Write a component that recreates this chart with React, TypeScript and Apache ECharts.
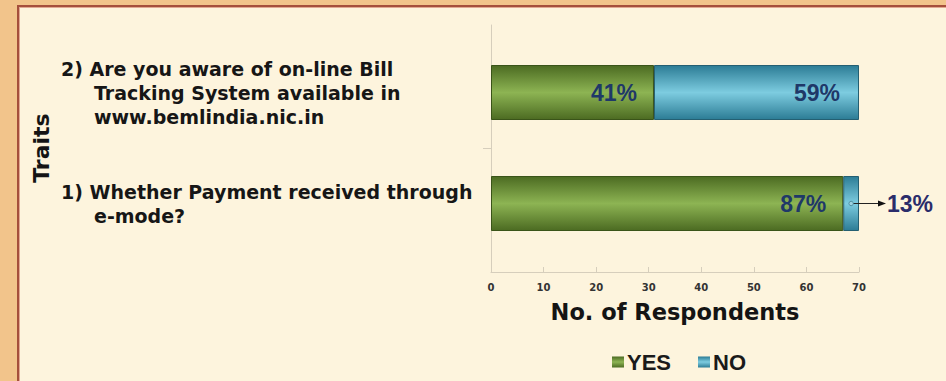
import React, { useEffect, useRef } from 'react';
import * as echarts from 'echarts';

const categories = [
  '1) Whether Payment received through\ne-mode?',
  '2) Are you aware of on-line Bill\nTracking System available in\nwww.bemlindia.nic.in',
];
const yesValues = [67, 31];
const noValues = [3, 39];
const yesLabels = ['87%', '41%'];
const noLabels = ['13%', '59%'];
const seriesNames = ['YES', 'NO'];
const xAxisName = 'No. of Respondents';
const yAxisName = 'Traits';

const VERDANA = '"DejaVu Sans", Verdana, sans-serif';
const ARIAL = '"Liberation Sans", Arial, sans-serif';
const AXIS_COLOR = '#D6CEBC';
const PCT_COLOR = '#1F3868';

export default function App() {
  const ref = useRef<HTMLDivElement>(null);

  useEffect(() => {
    document.body.style.margin = '0';
    if (!ref.current) return;
    const chart = echarts.init(ref.current, null, { renderer: 'svg' });

    const green = new echarts.graphic.LinearGradient(0, 0, 0, 1, [
      { offset: 0, color: '#4C6B22' },
      { offset: 0.5, color: '#8DB453' },
      { offset: 1, color: '#4C6B22' },
    ]);
    const blue = new echarts.graphic.LinearGradient(0, 0, 0, 1, [
      { offset: 0, color: '#2C7C95' },
      { offset: 0.5, color: '#7DCCE0' },
      { offset: 1, color: '#2C7C95' },
    ]);

    const labelLine = {
      fontSize: 19,
      fontWeight: 'bold',
      fontFamily: VERDANA,
      color: '#161616',
      lineHeight: 24,
    };

    chart.setOption({
      animation: false,
      grid: [
        { left: 491, right: 87, top: 37, bottom: 122 },
        { left: 491, right: 87, top: 25, bottom: 109 },
      ],
      legend: {
        data: seriesNames,
        left: 607,
        top: 346,
        itemWidth: 12,
        itemHeight: 11,
        itemGap: 27,
        icon: 'rect',
        itemStyle: { borderWidth: 0 },
        textStyle: { fontSize: 22, fontWeight: 'bold', fontFamily: ARIAL, color: '#1a1a1a', padding: [0, 0, 0, -2] },
      },
      xAxis: [
        { type: 'value', gridIndex: 0, min: 0, max: 70, show: false },
        {
          type: 'value',
          gridIndex: 1,
          min: 0,
          max: 70,
          interval: 10,
          name: xAxisName,
          nameLocation: 'middle',
          nameGap: 28,
          nameTextStyle: { fontSize: 22.5, fontWeight: 'bold', fontFamily: VERDANA, color: '#141414' },
          axisLine: { show: true, lineStyle: { color: AXIS_COLOR, width: 1 } },
          axisTick: { show: true, inside: true, length: 5, lineStyle: { color: AXIS_COLOR } },
          axisLabel: { fontSize: 10, fontWeight: 'bold', fontFamily: VERDANA, color: '#333', margin: 10 },
          splitLine: { show: false },
        },
      ],
      yAxis: [
        {
          type: 'category',
          gridIndex: 0,
          data: categories,
          name: yAxisName,
          nameLocation: 'middle',
          nameRotate: 90,
          nameGap: 439,
          nameTextStyle: { fontSize: 22, fontWeight: 'bold', fontFamily: VERDANA, color: '#141414' },
          axisLine: { show: false },
          axisTick: { show: false },
          axisLabel: {
            align: 'left',
            margin: 430,
            formatter: (v: string) =>
              v
                .split('\n')
                .map((l, i) => (i === 0 ? `{h|${l}}` : `{i|${l}}`))
                .join('\n'),
            rich: {
              h: { ...labelLine },
              i: { ...labelLine, padding: [0, 0, 0, 33] },
            },
          },
        },
        {
          type: 'value',
          gridIndex: 1,
          min: 0,
          max: 2,
          interval: 1,
          axisLine: { show: true, lineStyle: { color: AXIS_COLOR } },
          axisTick: { show: true, length: 8, customValues: [1], lineStyle: { color: AXIS_COLOR } },
          axisLabel: { show: false },
          splitLine: { show: false },
        },
      ],
      series: [
        {
          name: seriesNames[0],
          type: 'bar',
          stack: 'total',
          xAxisIndex: 0,
          yAxisIndex: 0,
          barWidth: 55,
          itemStyle: { color: green, borderColor: '#3A5419', borderWidth: 1 },
          label: {
            show: true,
            position: 'insideRight',
            distance: 17,
            fontSize: 23,
            fontWeight: 'bold',
            fontFamily: ARIAL,
            color: PCT_COLOR,
            formatter: (p: any) => yesLabels[p.dataIndex],
          },
          data: yesValues,
        },
        {
          name: seriesNames[1],
          type: 'bar',
          stack: 'total',
          xAxisIndex: 0,
          yAxisIndex: 0,
          barWidth: 55,
          itemStyle: { color: blue, borderColor: '#245F72', borderWidth: 1 },
          label: {
            show: true,
            position: 'insideRight',
            distance: 19,
            fontSize: 23,
            fontWeight: 'bold',
            fontFamily: ARIAL,
            color: PCT_COLOR,
            formatter: (p: any) => noLabels[p.dataIndex],
          },
          data: noValues.map((v) =>
            v < 10
              ? { value: v, label: { position: 'right', distance: 28, color: '#2A2C6A' } }
              : v
          ),
        },
      ],
    });

    // Arrow annotation for the small NO segment, positioned through the axes' scales
    const graphics: any[] = [];
    noValues.forEach((v, i) => {
      if (v >= 10) return;
      const mid = chart.convertToPixel({ xAxisIndex: 0, yAxisIndex: 0 }, [yesValues[i] + v / 2, i]) as number[];
      const end = chart.convertToPixel({ xAxisIndex: 0, yAxisIndex: 0 }, [yesValues[i] + v, i]) as number[];
      const tip = end[0] + 27;
      graphics.push(
        {
          type: 'line',
          shape: { x1: mid[0] + 2, y1: mid[1], x2: tip - 6, y2: mid[1] },
          style: { stroke: '#222', lineWidth: 1 },
          z: 10,
        },
        {
          type: 'polygon',
          shape: { points: [[tip, mid[1]], [tip - 8, mid[1] - 3], [tip - 8, mid[1] + 3]] },
          style: { fill: '#111' },
          z: 10,
        },
        {
          type: 'circle',
          shape: { cx: mid[0], cy: mid[1], r: 2.2 },
          style: { fill: '#9ED3E2', stroke: '#3E7F92', lineWidth: 0.8 },
          z: 11,
        }
      );
    });
    chart.setOption({ graphic: graphics });

    return () => chart.dispose();
  }, []);

  return (
    <div style={{ position: 'fixed', left: 0, top: 0, width: 946, height: 381, background: '#F2C48B', overflow: 'hidden' }}>
      <div
        style={{
          position: 'absolute',
          left: 17,
          top: 5,
          right: 0,
          bottom: 0,
          background: '#FDF4DD',
          borderLeft: '2px solid #A54F3C',
          borderTop: '2px solid #A54F3C',
          boxShadow: 'inset 1px 1px 0 #E2A891',
        }}
      />
      <div ref={ref} style={{ position: 'absolute', left: 0, top: 0, width: 946, height: 381 }} />
    </div>
  );
}
